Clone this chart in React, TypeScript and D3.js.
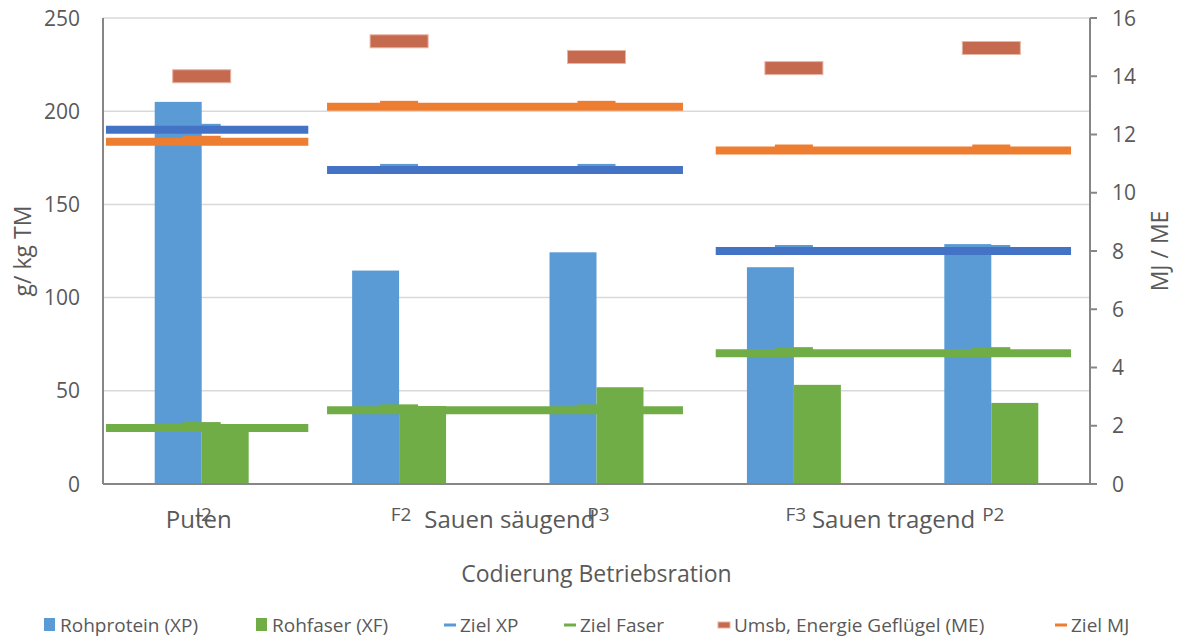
import * as d3 from 'd3'

// Rationen (Codierung) und Gruppen
const codes = ['I2', 'F2', 'P3', 'F3', 'P2']
const groups = ['Puten', 'Sauen säugend', 'Sauen tragend']
const groupOfCode = [0, 1, 1, 2, 2]

// g / kg TM (linke Achse)
const rohprotein = [205, 114.5, 124.3, 116.3, 128.7]
const rohfaser = [31, 41.8, 51.9, 53.2, 43.5]
const zielXP = [190, 168.5, 125]
const zielFaser = [30, 39.5, 70.2]

// MJ / ME (rechte Achse)
const energieME = [14.0, 15.2, 14.66, 14.28, 14.97]
const zielMJ = [11.75, 12.95, 11.45]

const leftTicks = [0, 50, 100, 150, 200, 250]
const rightTicks = [0, 2, 4, 6, 8, 10, 12, 14, 16]

const legendItems = [
  { label: 'Rohprotein (XP)', color: '#5B9BD5', kind: 'box' },
  { label: 'Rohfaser (XF)', color: '#70AD47', kind: 'box' },
  { label: 'Ziel XP', color: '#5B9BD5', kind: 'line' },
  { label: 'Ziel Faser', color: '#70AD47', kind: 'line' },
  { label: 'Umsb, Energie Geflügel (ME)', color: '#C5694F', kind: 'dash' },
  { label: 'Ziel MJ', color: '#ED7D31', kind: 'line' }
]

const W = 1181
const H = 639
const margin = { top: 18, right: 91, bottom: 155, left: 103 }
const FONT = '"Open Sans", sans-serif'
const TEXT = '#595959'
// horizontal reach of the target lines inside their groups (fraction of band)
const groupSpan = [[0.015, 1.04], [0.135, 0.938], [0.104, 0.904]]
// small nudges of the group captions, as in the original
const groupNudge = [-3, 12, 1]
const legendX = [44, 256, 444, 564, 718, 1055]

const App = () => {
  const x = d3.scaleBand<string>()
    .domain(codes)
    .range([margin.left, W - margin.right])
    .paddingInner(0)
    .paddingOuter(0)

  const bw = x.bandwidth()
  const barW = bw * 0.238

  const yL = d3.scaleLinear().domain([0, 250]).range([H - margin.bottom, margin.top])
  const yR = d3.scaleLinear().domain([0, 16]).range([H - margin.bottom, margin.top])

  const codesOfGroup = (g: number) => codes.filter((_, i) => groupOfCode[i] === g)

  const targetLine = (g: number, val: number, scale: d3.ScaleLinear<number, number>, color: string, markColor: string, key: string) => {
    const cs = codesOfGroup(g)
    const x1 = (x(cs[0]) || 0) + bw * groupSpan[g][0]
    const x2 = (x(cs[cs.length - 1]) || 0) + bw * groupSpan[g][1]
    return (
      <g key={key}>
        {cs.map(c => (
          <rect key={c} x={(x(c) || 0) + bw / 2 - 19} y={scale(val) - 6} width={38} height={9} fill={markColor} />
        ))}
        <line x1={x1} x2={x2} y1={scale(val)} y2={scale(val)} stroke={color} strokeWidth={8} />
      </g>
    )
  }

  const x0 = margin.left
  const xR = W - margin.right
  const yBase = H - margin.bottom

  return (
    <svg width={W} height={H} style={{ position: 'absolute', left: 0, top: 0, background: '#fff' }} fontFamily={FONT}>
      {/* grid */}
      {leftTicks.map(t => (
        <line key={t} x1={x0} x2={xR} y1={yL(t)} y2={yL(t)} stroke="#D9D9D9" strokeWidth={1.5} />
      ))}

      {/* bars */}
      {codes.map((c, i) => {
        const cx = (x(c) || 0) + bw / 2
        return (
          <g key={c}>
            <rect x={cx - barW} y={yL(rohprotein[i])} width={barW} height={yBase - yL(rohprotein[i])} fill="#5B9BD5" />
            <rect x={cx} y={yL(rohfaser[i])} width={barW} height={yBase - yL(rohfaser[i])} fill="#70AD47" />
          </g>
        )
      })}

      {/* target lines */}
      {groups.map((_, g) => targetLine(g, zielFaser[g], yL, '#70AD47', '#70AD47', 'f' + g))}
      {groups.map((_, g) => targetLine(g, zielXP[g], yL, '#4472C4', '#5B9BD5', 'x' + g))}
      {groups.map((_, g) => targetLine(g, zielMJ[g], yR, '#ED7D31', '#ED7D31', 'm' + g))}

      {/* ME markers */}
      {codes.map((c, i) => (
        <rect key={c} x={(x(c) || 0) + bw / 2 - 29} y={yR(energieME[i]) - 6.5} width={58} height={13}
          fill="#C5694F" stroke="#E8B4A4" strokeWidth={1} />
      ))}

      {/* axes */}
      <line x1={x0} x2={x0} y1={margin.top} y2={yBase} stroke="#868686" strokeWidth={2} />
      <line x1={x0} x2={xR} y1={yBase} y2={yBase} stroke="#868686" strokeWidth={2} />
      <line x1={xR} x2={xR} y1={margin.top} y2={yBase} stroke="#868686" strokeWidth={2} />
      {rightTicks.map(t => (
        <line key={t} x1={xR} x2={xR + 7} y1={yR(t)} y2={yR(t)} stroke="#868686" strokeWidth={2} />
      ))}

      {leftTicks.map(t => (
        <text key={t} x={x0 - 23} y={yL(t)} dy="0.36em" textAnchor="end" fontSize={21} fill={TEXT}>{t}</text>
      ))}
      {rightTicks.map(t => (
        <text key={t} x={xR + 22} y={yR(t)} dy="0.36em" textAnchor="start" fontSize={21} fill={TEXT}>{t}</text>
      ))}

      <text transform={`translate(23,${(margin.top + yBase) / 2}) rotate(-90)`} textAnchor="middle" dy="0.36em" fontSize={23} fill={TEXT}>g/ kg TM</text>
      <text transform={`translate(1160,${(margin.top + yBase) / 2}) rotate(-90)`} textAnchor="middle" dy="0.36em" fontSize={23} fill={TEXT}>MJ / ME</text>

      {/* category labels */}
      {codes.map(c => (
        <text key={c} x={(x(c) || 0) + bw / 2 + 2} y={521} textAnchor="middle" fontSize={19} fill={TEXT}>{c}</text>
      ))}
      {groups.map((g, gi) => {
        const cs = codesOfGroup(gi)
        const mid = ((x(cs[0]) || 0) + (x(cs[cs.length - 1]) || 0) + bw) / 2 + groupNudge[gi]
        return <text key={g} x={mid} y={528} textAnchor="middle" fontSize={24} fill={TEXT}>{g}</text>
      })}

      <text x={(x0 + xR) / 2} y={582} textAnchor="middle" fontSize={23} fill={TEXT}>Codierung Betriebsration</text>

      {/* legend */}
      {legendItems.map((it, i) => {
        const lx = legendX[i]
        const ly = 625
        return (
          <g key={it.label}>
            {it.kind === 'box' && <rect x={lx} y={ly - 7} width={11} height={13} fill={it.color} />}
            {it.kind === 'line' && <rect x={lx} y={ly - 1.5} width={12} height={3} fill={it.color} />}
            {it.kind === 'dash' && <rect x={lx} y={ly - 3} width={12} height={6} fill={it.color} stroke="#E8B4A4" strokeWidth={1} />}
            <text x={lx + 16} y={ly} dy="0.36em" fontSize={19} fill={TEXT}>{it.label}</text>
          </g>
        )
      })}
    </svg>
  )
}

export default App
